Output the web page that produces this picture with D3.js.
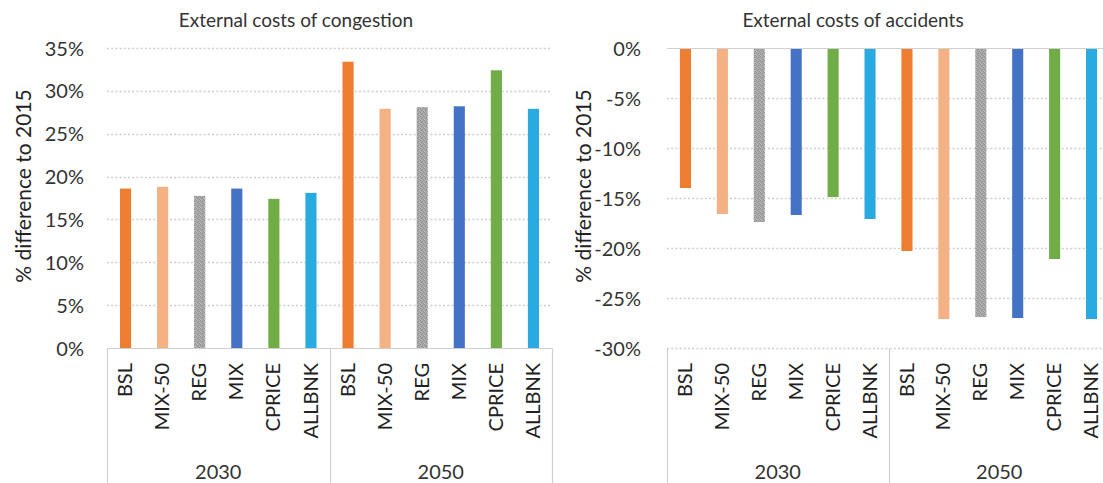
<!DOCTYPE html>
<html>
<head>
<meta charset="utf-8">
<script src="https://cdn.jsdelivr.net/npm/d3@7"></script>
<style>
  html, body { margin: 0; padding: 0; background: #fff; }
  svg { display: block; font-family: Lato, "Open Sans", sans-serif; }
</style>
</head>
<body>
<svg id="chart" width="1103" height="483"></svg>
<script>
// ---- data ----
const scenarios = ["BSL", "MIX-50", "REG", "MIX", "CPRICE", "ALLBNK"];
const years = ["2030", "2050"];
const congestion2030 = [18.6, 18.8, 17.75, 18.6, 17.4, 18.1];
const congestion2050 = [33.4, 27.9, 28.1, 28.2, 32.4, 27.9];
const accidents2030 = [-14.0, -16.6, -17.4, -16.7, -14.9, -17.1];
const accidents2050 = [-20.3, -27.1, -26.9, -27.0, -21.1, -27.1];
const congestionTicks = [0, 5, 10, 15, 20, 25, 30, 35];
const accidentTicks = [0, -5, -10, -15, -20, -25, -30];
const scenarioColors = ["#ED7D31", "#F4B183", "#A5A5A5", "#4472C4", "#70AD47", "#29ABE2"];
const yTitle = "% difference to 2015";

const svg = d3.select("#chart");
const W = 1103, H = 483;

// texture for REG bars
const defs = svg.append("defs");
const pat = defs.append("pattern").attr("id", "regTex").attr("patternUnits", "userSpaceOnUse")
  .attr("width", 4).attr("height", 4);
pat.append("rect").attr("width", 4).attr("height", 4).attr("fill", "#A8A8A8");
[[0,0],[2,1],[1,2],[3,3]].forEach(([x,y]) =>
  pat.append("rect").attr("x", x).attr("y", y).attr("width", 1).attr("height", 1).attr("fill", "#8C8C8C"));
[[1,0],[3,2],[0,3]].forEach(([x,y]) =>
  pat.append("rect").attr("x", x).attr("y", y).attr("width", 1).attr("height", 1).attr("fill", "#BDBDBD"));

const clip = defs.append("clipPath").attr("id", "pageClip");
clip.append("rect").attr("width", W).attr("height", H);

function drawChart(opt) {
  const g = svg.append("g").attr("clip-path", "url(#pageClip)");
  const data = [];
  years.forEach((yr, yi) => {
    const vals = yi === 0 ? opt.v2030 : opt.v2050;
    scenarios.forEach((s, si) => data.push({ key: yr + "|" + s, year: yr, scen: s, si, v: vals[si] }));
  });

  const x = d3.scaleBand().domain(data.map(d => d.key)).range([opt.x0, opt.x1])
    .paddingInner(0.70).paddingOuter(0.35);
  const y = d3.scaleLinear().domain(opt.domain).range([opt.yBottom, opt.yTop]);

  // gridlines (dotted)
  g.append("g").selectAll("line").data(opt.ticks.filter(t => t !== 0)).join("line")
    .attr("x1", opt.x0).attr("x2", opt.x1)
    .attr("y1", d => Math.round(y(d / 100)) + 0.5).attr("y2", d => Math.round(y(d / 100)) + 0.5)
    .attr("stroke", "#CFCFCF").attr("stroke-width", 1.4).attr("stroke-dasharray", "2,2.2");

  // bars
  g.append("g").selectAll("rect").data(data).join("rect")
    .attr("x", d => x(d.key)).attr("width", x.bandwidth())
    .attr("y", d => Math.min(y(0), y(d.v / 100)))
    .attr("height", d => Math.abs(y(d.v / 100) - y(0)))
    .attr("fill", d => d.scen === "REG" ? "url(#regTex)" : scenarioColors[d.si]);

  // zero axis line (solid)
  const y0 = Math.round(y(0)) + 0.5;
  g.append("line").attr("x1", opt.x0).attr("x2", opt.x1).attr("y1", y0).attr("y2", y0)
    .attr("stroke", "#D0D0D0").attr("stroke-width", 1.2);

  // y axis tick labels
  const yAxis = d3.axisLeft(y).tickValues(opt.ticks.map(t => t / 100))
    .tickFormat(d => Math.round(d * 100) + "%").tickSize(0).tickPadding(0);
  const ya = g.append("g").attr("transform", `translate(${opt.tickRight},0)`).call(yAxis);
  ya.select(".domain").remove();
  ya.selectAll("text").attr("font-size", 20).attr("fill", "#333").attr("font-family", "Lato, sans-serif")
    .attr("dy", "0.35em");

  // category axis box
  const boxTop = Math.round(opt.yBottom) + 0.5;
  // separator between year groups: boundary between 6th and 7th band
  const mid = (x(data[5].key) + x.bandwidth() + x(data[6].key)) / 2;
  [opt.x0, mid, opt.x1].forEach(xx => {
    g.append("line").attr("x1", Math.round(xx) + 0.5).attr("x2", Math.round(xx) + 0.5)
      .attr("y1", boxTop).attr("y2", H).attr("stroke", "#D0D0D0").attr("stroke-width", 1.2);
  });

  // scenario labels (rotated)
  g.append("g").selectAll("text").data(data).join("text")
    .attr("transform", d => `translate(${x(d.key) + x.bandwidth() / 2},${opt.labelTop}) rotate(-90)`)
    .attr("text-anchor", "end").attr("dy", "0.33em")
    .attr("font-size", 20).attr("fill", "#222").text(d => d.scen);

  // year labels
  years.forEach((yr, yi) => {
    const a = yi === 0 ? opt.x0 : mid, b = yi === 0 ? mid : opt.x1;
    g.append("text").attr("x", (a + b) / 2).attr("y", 479).attr("text-anchor", "middle")
      .attr("font-size", 20).attr("fill", "#333").text(yr);
  });

  // title
  g.append("text").attr("x", opt.titleX).attr("y", 27).attr("text-anchor", "middle")
    .attr("font-size", 19).attr("fill", "#333").text(opt.title);

  // y title
  g.append("text").attr("transform", `translate(${opt.yTitleX},186) rotate(-90)`)
    .attr("text-anchor", "middle").attr("dy", "0.35em")
    .attr("font-size", 21).attr("fill", "#222").text(yTitle);
}

drawChart({
  v2030: congestion2030, v2050: congestion2050, ticks: congestionTicks,
  domain: [0, 0.35], yBottom: 348, yTop: 48, x0: 107, x1: 552,
  tickRight: 84, labelTop: 363, title: "External costs of congestion", titleX: 296, yTitleX: 24
});
drawChart({
  v2030: accidents2030, v2050: accidents2050, ticks: accidentTicks,
  domain: [-0.30, 0], yBottom: 348, yTop: 48, x0: 667, x1: 1110,
  tickRight: 641, labelTop: 363, title: "External costs of accidents", titleX: 853, yTitleX: 584
});
</script>
</body>
</html>
